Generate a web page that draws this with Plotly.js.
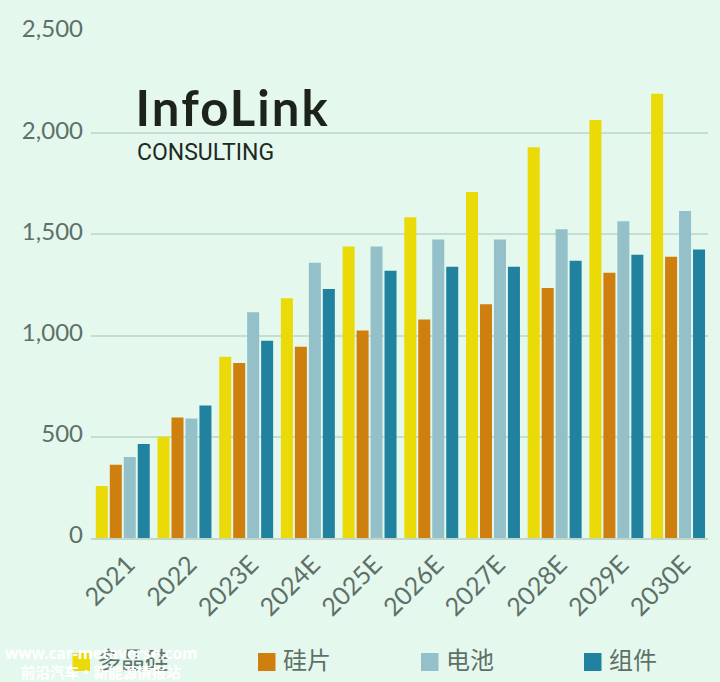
<!DOCTYPE html>
<html><head><meta charset="utf-8">
<script src="https://cdn.plot.ly/plotly-3.0.1.min.js"></script>
<style>html,body{margin:0;padding:0;background:#e5f8ee}</style></head>
<body><div id="chart" style="width:720px;height:682px"></div>
<script>
const years = ['2021','2022','2023E','2024E','2025E','2026E','2027E','2028E','2029E','2030E'];
const polysilicon = [257,500,895,1185,1440,1585,1710,1930,2065,2195];
const wafer = [362,595,865,945,1025,1080,1155,1235,1310,1390];
const cell = [400,590,1115,1360,1440,1475,1475,1525,1565,1615];
const mod = [465,655,975,1230,1320,1340,1340,1370,1400,1425];
const names = ['多晶硅','硅片','电池','组件'];
const colors = ['#e9da08','#cf7f0e','#94c1c9','#21829f'];
const seriesValues = [polysilicon, wafer, cell, mod];
const swatchX = [72.5,258,421,584];
const labelX = [96,282,445,608];

const traces = seriesValues.map((v,i)=>({type:'bar',name:names[i],x:years,y:v,marker:{color:colors[i]},showlegend:false,
  hovertemplate:'%{x} '+names[i]+': %{y}<extra></extra>'}));
const W=720,H=682;
const px = x=>(x-91)/617, py = y=>(538-y)/506;
const shapes = swatchX.map((x,i)=>({type:'rect',xref:'paper',yref:'paper',
  x0:px(x),x1:px(x+17.5),y0:py(671),y1:py(653),fillcolor:colors[i],line:{width:0}}));
const ann = names.map((n,i)=>({xref:'paper',yref:'paper',x:px(labelX[i]),y:py(658),xanchor:'left',yanchor:'middle',xshift:-1,
  showarrow:false,text:n,font:{family:'"Noto Sans CJK SC"',size:24,color:'#5e7068'}}));
ann.push({xref:'paper',yref:'paper',x:px(142),y:py(107),xanchor:'left',yanchor:'middle',showarrow:false,
  text:'<b>InfoLink</b>',font:{family:'Lato',size:49,color:'#1c2318'}});
ann.push({xref:'paper',yref:'paper',x:px(135),y:py(152),xanchor:'left',yanchor:'middle',showarrow:false,
  text:'CONSULTING',font:{family:'Roboto',size:23,color:'#1c2a22'}});
ann.push({xref:'paper',yref:'paper',x:px(101),y:py(653),xanchor:'center',yanchor:'middle',showarrow:false,
  text:'<b>www.car-metaverse.com</b>',font:{family:'"Noto Sans"',size:15.5,color:'#ffffff'}});
ann.push({xref:'paper',yref:'paper',x:px(101),y:py(671),xanchor:'center',yanchor:'middle',showarrow:false,
  text:'<b>前沿汽车·新能源情报站</b>',font:{family:'"Noto Sans CJK SC"',size:14.5,color:'#ffffff'}});
const layout={width:W,height:H,paper_bgcolor:'#e5f8ee',plot_bgcolor:'#e5f8ee',
  margin:{l:91,r:12,t:32,b:144,autoexpand:false},barmode:'group',bargap:0.094,bargroupgap:0.14,showlegend:false,
  font:{family:'Lato',color:'#5e7068'},
  xaxis:{type:'category',tickangle:-45,tickfont:{family:'Lato',size:25,color:'#5e7068'},showline:true,linecolor:'#c3d6cc',linewidth:2,ticks:'',showgrid:false,range:[-0.515,9.485],ticklabelshift:5},
  yaxis:{range:[0,2500],tickvals:[0,500,1000,1500,2000,2500],ticktext:['0','500','1,000','1,500','2,000','2,500'],
    tickfont:{family:'Lato',size:24,color:'#5e7068'},gridcolor:'#c3dfd2',gridwidth:2,zeroline:false,ticks:'',ticklen:0,showline:false,ticklabelstandoff:7,ticklabelshift:-3},
  shapes,annotations:ann};
Plotly.newPlot('chart',traces,layout,{displayModeBar:false,responsive:false}).then(()=>{
  document.querySelectorAll('.annotation-text').forEach(t=>{
    if(t.textContent==='InfoLink') t.style.letterSpacing='2.1px';
  });
});
</script></body></html>
